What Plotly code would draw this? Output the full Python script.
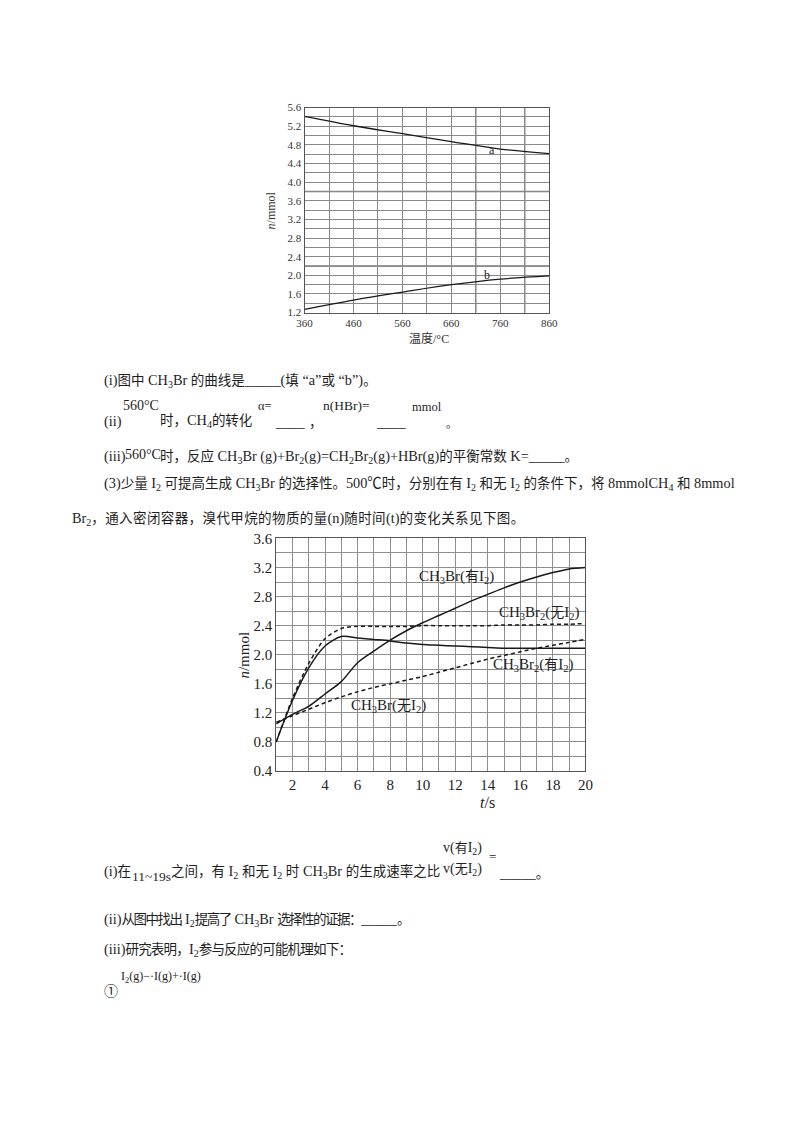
import plotly.graph_objects as go

W, H = 800, 1132

# ---------------- data: chart 1 ----------------
temp_c = [360, 460, 560, 660, 760, 860]
n_curve_a = [5.41, 5.21, 5.04, 4.87, 4.71, 4.61]
n_curve_b = [1.27, 1.47, 1.64, 1.80, 1.92, 1.99]
x1_ticks = [360, 460, 560, 660, 760, 860]
y1_ticks = [1.2, 1.6, 2.0, 2.4, 2.8, 3.2, 3.6, 4.0, 4.4, 4.8, 5.2, 5.6]

# ---------------- data: chart 2 ----------------
t_s = list(range(1, 21))
ch3br_with_i2 = [1.05, 1.18, 1.29, 1.46, 1.63, 1.89, 2.05, 2.20, 2.33, 2.44, 2.54, 2.64,
                 2.74, 2.83, 2.92, 3.00, 3.07, 3.13, 3.18, 3.20]
ch2br2_with_i2 = [0.80, 1.37, 1.82, 2.12, 2.25, 2.23, 2.21, 2.19, 2.16, 2.14, 2.13, 2.12,
                  2.11, 2.10, 2.09, 2.09, 2.09, 2.09, 2.09, 2.09]
ch2br2_without_i2 = [0.80, 1.40, 1.88, 2.22, 2.36, 2.39, 2.39, 2.39, 2.39, 2.40, 2.40, 2.40,
                     2.40, 2.40, 2.41, 2.41, 2.41, 2.42, 2.42, 2.43]
ch3br_without_i2 = [1.07, 1.16, 1.25, 1.34, 1.42, 1.49, 1.55, 1.60, 1.65, 1.70, 1.76, 1.82,
                    1.88, 1.94, 1.99, 2.04, 2.09, 2.13, 2.17, 2.21]
x2_ticks = [2, 4, 6, 8, 10, 12, 14, 16, 18, 20]
y2_ticks = [0.4, 0.8, 1.2, 1.6, 2.0, 2.4, 2.8, 3.2, 3.6]

FONT = "Liberation Serif, Times New Roman, Noto Sans CJK SC, serif"
INK = "#1e1e1e"
LINE = "#1a1a1a"
BODY = 14.3   # latin size of body text
BODY_CJK = 13.5


def px(x):
    return x / W


def py(y):
    return 1 - y / H


def cjk(s, size=BODY_CJK, ls=None):
    """Wrap runs of CJK glyphs in a slightly smaller span (CJK glyphs are narrower in the source)."""
    extra = f";letter-spacing:{ls}px" if ls is not None else ""
    out, run, in_tag = [], "", False

    def flush(r):
        return f'<span style="font-size:{size}px{extra}">{r}</span>'

    for ch in s:
        if ch == "<":
            in_tag = True
        if not in_tag and ord(ch) >= 0x2E80:
            run += ch
            continue
        if run:
            out.append(flush(run))
            run = ""
        out.append(ch)
        if ch == ">":
            in_tag = False
    if run:
        out.append(flush(run))
    return "".join(out)


fig = go.Figure()

# chart 1 curves
for ys in (n_curve_a, n_curve_b):
    fig.add_trace(go.Scatter(x=temp_c, y=ys, mode="lines", line=dict(color=LINE, width=1.3, shape="spline"),
                             xaxis="x", yaxis="y", showlegend=False, hoverinfo="skip"))

# chart 2 curves
for ys, dash in ((ch3br_with_i2, "solid"), (ch2br2_with_i2, "solid"),
                 (ch2br2_without_i2, "4px,3px"), (ch3br_without_i2, "4px,3px")):
    fig.add_trace(go.Scatter(x=t_s, y=ys, mode="lines",
                             line=dict(color=LINE, width=1.5, shape="spline", smoothing=0.8, dash=dash),
                             xaxis="x2", yaxis="y2", showlegend=False, hoverinfo="skip"))

axis_common = dict(showline=True, mirror=True, zeroline=False, ticks="", fixedrange=True)
GRID1 = "#8a8a8a"
GRID2 = "#8e8e8e"

fig.update_layout(
    width=W, height=H,
    margin=dict(l=0, r=0, t=0, b=0),
    paper_bgcolor="white", plot_bgcolor="white",
    font=dict(family=FONT, color=INK),
    xaxis=dict(domain=[px(303), px(553)], anchor="y", range=[360, 860],
               tickvals=x1_ticks, ticktext=[str(v) for v in x1_ticks],
               showgrid=True, gridcolor=GRID1, gridwidth=1,
               minor=dict(dtick=50, tick0=360, showgrid=True, gridcolor=GRID1, gridwidth=1),
               linecolor="#555", linewidth=1, tickfont=dict(size=11, family=FONT, color="#333"),
               **axis_common),
    yaxis=dict(domain=[py(309), py(101)], anchor="x", range=[1.2, 5.6],
               tickvals=y1_ticks, ticktext=[f"{v:.1f}" for v in y1_ticks],
               showgrid=True, gridcolor=GRID1, gridwidth=1,
               minor=dict(dtick=0.2, tick0=1.2, showgrid=True, gridcolor=GRID1, gridwidth=1),
               linecolor="#555", linewidth=1, tickfont=dict(size=11, family=FONT, color="#333"),
               **axis_common),
    xaxis2=dict(domain=[px(274), px(590)], anchor="y2", range=[1, 20],
                tickvals=x2_ticks, ticktext=[str(v) for v in x2_ticks],
                showgrid=True, gridcolor=GRID2, gridwidth=1,
                minor=dict(dtick=1, tick0=1, showgrid=True, gridcolor=GRID2, gridwidth=1),
                linecolor="#555", linewidth=1, tickfont=dict(size=15, family=FONT, color="#222"),
                **axis_common),
    yaxis2=dict(domain=[py(774), py(538)], anchor="x2", range=[0.4, 3.6],
                tickvals=y2_ticks, ticktext=[f"{v:.1f}" for v in y2_ticks],
                showgrid=True, gridcolor=GRID2, gridwidth=1,
                minor=dict(dtick=0.2, tick0=0.4, showgrid=True, gridcolor=GRID2, gridwidth=1),
                linecolor="#555", linewidth=1, tickfont=dict(size=15, family=FONT, color="#222"),
                **axis_common),
)

# emphasised grid lines in chart 1
for yv in (3.8, 2.2):
    fig.add_shape(type="line", xref="x", yref="y", x0=360, x1=860, y0=yv, y1=yv,
                  line=dict(color="#777", width=1.6), layer="below")
for xv in (710, 810):
    fig.add_shape(type="line", xref="x", yref="y", x0=xv, x1=xv, y0=1.2, y1=5.6,
                  line=dict(color="#7a7a7a", width=1.3), layer="below")

annotations = []


def txt(x, y, s, size=BODY, anchor="left", color=INK, textangle=0, cj=BODY_CJK, ls=None, cls=None):
    t = cjk(s, cj, cls)
    if ls is not None:
        t = f'<span style="letter-spacing:{ls}px">{t}</span>'
    annotations.append(dict(x=px(x), y=py(y), xref="paper", yref="paper", text=t, showarrow=False,
                            xanchor=anchor, yanchor="middle", textangle=textangle,
                            font=dict(size=size, family=FONT, color=color)))


def dtxt(x, y, s, xr, yr, size=13, anchor="center", cj=14):
    annotations.append(dict(x=x, y=y, xref=xr, yref=yr, text=cjk(s, cj), showarrow=False,
                            xanchor=anchor, yanchor="middle",
                            font=dict(size=size, family=FONT, color=INK)))


# chart 1 labels
dtxt(742, 4.69, "a", "x", "y", size=12)
dtxt(732, 2.00, "b", "x", "y", size=12)
txt(430, 335, "温度/°C", size=12, anchor="center", color="#333", cj=12)
txt(269, 205, "<i>n</i>/mmol", size=12, anchor="center", color="#333", textangle=-90)

# chart 2 labels
dtxt(12.1, 3.07, "CH<sub>3</sub>Br(有I<sub>2</sub>)", "x2", "y2", size=15)
dtxt(17.2, 2.58, "CH<sub>3</sub>Br<sub>2</sub>(无I<sub>2</sub>)", "x2", "y2", size=15)
dtxt(16.8, 1.86, "CH<sub>3</sub>Br<sub>2</sub>(有I<sub>2</sub>)", "x2", "y2", size=15)
dtxt(7.9, 1.30, "CH<sub>3</sub>Br(无I<sub>2</sub>)", "x2", "y2", size=15)
txt(490, 806, "<i>t</i>/s", size=16, anchor="center")
txt(241, 656, "<i>n</i>/mmol", size=15, anchor="center", textangle=-90)

# body text
txt(96, 378, "(i)图中 CH<sub>3</sub>Br 的曲线是_____(填 “a”或 “b”)。")
txt(96, 419, "(ii)")
txt(115, 403, "560°C", size=14)
txt(153, 419, "时，CH<sub>4</sub>的转化")
txt(253, 404, "α=", size=12.5)
txt(271, 420, "____")
txt(306, 420, "，")
txt(320, 403, "n(HBr)=", size=13.5)
txt(374, 420, "____")
txt(411, 405, "mmol", size=12.5)
txt(445, 422, "。", size=11, cj=11)
txt(96, 455, "(iii)")
txt(118, 453, "560°C", size=14)
txt(153, 455, "时，反应 CH<sub>3</sub>Br (g)+Br<sub>2</sub>(g)=CH<sub>2</sub>Br<sub>2</sub>(g)+HBr(g)的平衡常数 K=_____。")
txt(96, 483, "(3)少量 I<sub>2</sub> 可提高生成 CH<sub>3</sub>Br 的选择性。500℃时，分别在有 I<sub>2</sub> 和无 I<sub>2</sub> 的条件下，将 8mmolCH<sub>4</sub> 和 8mmol")
txt(63, 518, "Br<sub>2</sub>，通入密闭容器，溴代甲烷的物质的量(n)随时间(t)的变化关系见下图。", cls=0.4)

txt(96, 876, "(i)在")
txt(125, 881, "11~19s", size=13.5)
txt(165, 876, "之间，有 I<sub>2</sub> 和无 I<sub>2</sub> 时 CH<sub>3</sub>Br 的生成速率之比")
txt(464, 853, "v(有I<sub>2</sub>)", size=14, anchor="center", cj=13)
txt(464, 874, "v(无I<sub>2</sub>)", size=14, anchor="center", cj=13)
txt(489, 861, "=", size=13)
txt(500, 877, "_____。")
txt(96, 925, "(ii)从图中找出 I<sub>2</sub>提高了 CH<sub>3</sub>Br 选择性的证据：_____。", cls=-1.5)
txt(96, 955, "(iii)研究表明，I<sub>2</sub>参与反应的可能机理如下：", cls=-0.8)
txt(113, 983, "I<sub>2</sub>(g)−·I(g)+·I(g)", size=12)
txt(96, 998, "①", size=14, cj=14)

fig.update_layout(annotations=annotations)

fig.write_html("out.html",
               config={"displayModeBar": False},
               post_script="document.body.style.margin='0';document.body.style.padding='0';"
                           "document.documentElement.style.overflow='hidden';")
